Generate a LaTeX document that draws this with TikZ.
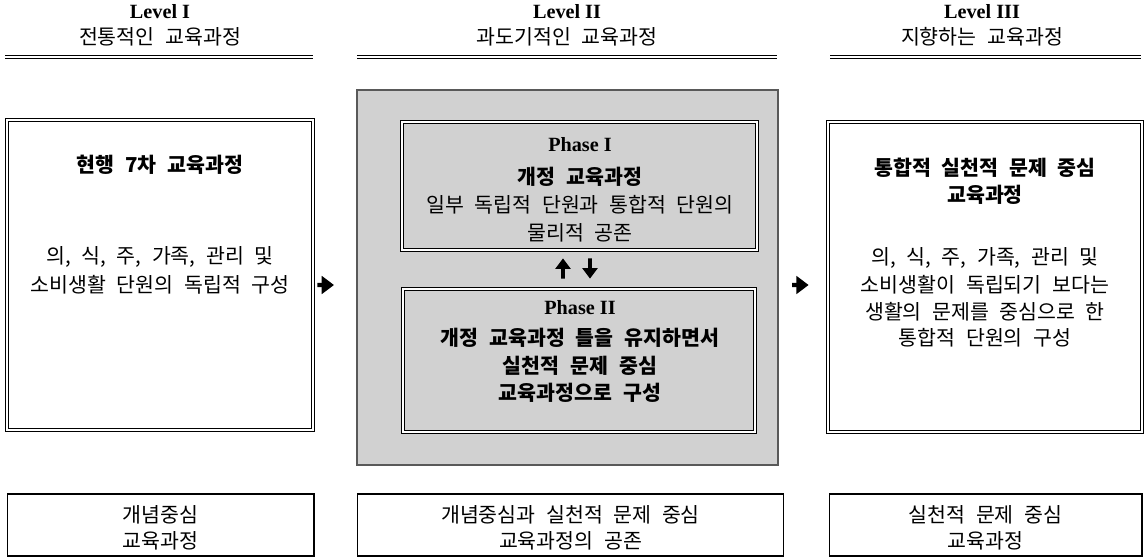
\documentclass[tikz,border=0pt]{standalone}
\usepackage{fontspec}
\setmainfont{Liberation Serif}
\newfontfamily\krfont{Noto Sans CJK KR}[WordSpace=2.3]
\usetikzlibrary{arrows.meta}

\begin{document}
\begin{tikzpicture}
    [
    x=0.02cm, y=-0.02cm,
    level/.style={font=\fontsize{11.5}{13}\selectfont\bfseries},
    phase/.style={font=\fontsize{11.5}{13}\selectfont\bfseries},
    kr/.style={font=\fontsize{11.7}{14}\selectfont\krfont},
    krbold/.style={font=\fontsize{11.7}{14}\selectfont\krfont\bfseries},
    frame/.style={draw,double,double distance=1.2pt,line width=0.45pt,inner sep=0pt},
    plain/.style={draw,line width=0.6pt,inner sep=0pt},
    shade/.style={draw=black!65,line width=1.2pt,fill=black!18,inner sep=0pt},
    rule/.style={double,double distance=1.2pt,line width=0.5pt},
    jump/.style={line width=2.4pt,-{Triangle[length=7pt,width=10pt]}},
    swap/.style={line width=2.2pt,-{Triangle[length=6pt,width=8.5pt]}}
    ]
    \useasboundingbox (0,0) rectangle (1146,558);
    % level headings
    \node (lv1) at (160,12) [level] {Level I};
    \node (lv2) at (567,12) [level] {Level II};
    \node (lv3) at (982,12) [level] {Level III};
    \node (hd1) at (160,37) [kr] {전통적인 교육과정};
    \node (hd2) at (567,37) [kr] {과도기적인 교육과정};
    \node (hd3) at (982,37) [kr] {지향하는 교육과정};
    \coordinate (r1a) at (5,57);   \coordinate (r1b) at (313,57);
    \coordinate (r2a) at (357,57); \coordinate (r2b) at (777,57);
    \coordinate (r3a) at (830,57); \coordinate (r3b) at (1141,57);
    \draw [rule] (r1a) -- (r1b);
    \draw [rule] (r2a) -- (r2b);
    \draw [rule] (r3a) -- (r3b);
    % boxes
    \node (lbox) at (160,275) [frame,minimum width=6.12cm,minimum height=6.2cm] {};
    \node (mid) at (567.5,277.5) [shade,minimum width=8.42cm,minimum height=7.5cm] {};
    \node (p1) at (579.5,186) [frame,fill=black!18,minimum width=7.1cm,minimum height=2.56cm] {};
    \node (p2) at (579,360.5) [frame,fill=black!18,minimum width=7.04cm,minimum height=2.86cm] {};
    \node (rbox) at (985,277) [frame,minimum width=6.28cm,minimum height=6.2cm] {};
    \node (b1) at (160.5,525) [plain,minimum width=6.14cm,minimum height=1.24cm] {};
    \node (b2) at (570.5,525) [plain,minimum width=8.54cm,minimum height=1.24cm] {};
    \node (b3) at (985.5,525) [plain,minimum width=6.26cm,minimum height=1.24cm] {};
    % texts
    \node (t1) at (160,165) [krbold] {현행 7차 교육과정};
    \node (t2) at (160,257) [kr] {의, 식, 주, 가족, 관리 및};
    \node (t3) at (160,285) [kr] {소비생활 단원의 독립적 구성};
    \node (p1a) at (580,145) [phase] {Phase I};
    \node (p1b) at (580,177) [krbold] {개정 교육과정};
    \node (p1c) at (580,205) [kr] {일부 독립적 단원과 통합적 단원의};
    \node (p1d) at (580,233) [kr] {물리적 공존};
    \node (p2a) at (580,308) [phase] {Phase II};
    \node (p2b) at (580,338) [krbold] {개정 교육과정 틀을 유지하면서};
    \node (p2c) at (580,366) [krbold] {실천적 문제 중심};
    \node (p2d) at (580,393) [krbold] {교육과정으로 구성};
    \node (s1) at (985,168) [krbold] {통합적 실천적 문제 중심};
    \node (s2) at (985,195) [krbold] {교육과정};
    \node (s3) at (985,258) [kr] {의, 식, 주, 가족, 관리 및};
    \node (s4) at (985,285) [kr] {소비생활이 독립되기 보다는};
    \node (s5) at (985,312) [kr] {생활의 문제를 중심으로 한};
    \node (s6) at (985,338) [kr] {통합적 단원의 구성};
    \node (u1) at (160.5,515) [kr] {개념중심};
    \node (u2) at (160.5,541) [kr] {교육과정};
    \node (v1) at (570.5,515) [kr] {개념중심과 실천적 문제 중심};
    \node (v2) at (570.5,541) [kr] {교육과정의 공존};
    \node (w1) at (985.5,515) [kr] {실천적 문제 중심};
    \node (w2) at (985.5,541) [kr] {교육과정};
    % arrows
    \draw [jump,shorten <=0.08cm,shorten >=0.44cm] ([yshift=-0.2cm]lbox.east) -- ([yshift=-0.15cm]mid.west);
    \draw [jump,shorten <=0.26cm,shorten >=0.38cm] ([yshift=-0.15cm]mid.east) -- ([yshift=-0.16cm]rbox.west);
    \draw [swap,shorten <=0.2cm,shorten >=0.16cm] ([xshift=-0.32cm]p2.north) -- ([xshift=-0.33cm]p1.south);
    \draw [swap,shorten <=0.16cm,shorten >=0.2cm] ([xshift=0.21cm]p1.south) -- ([xshift=0.22cm]p2.north);
\end{tikzpicture}
\end{document}
